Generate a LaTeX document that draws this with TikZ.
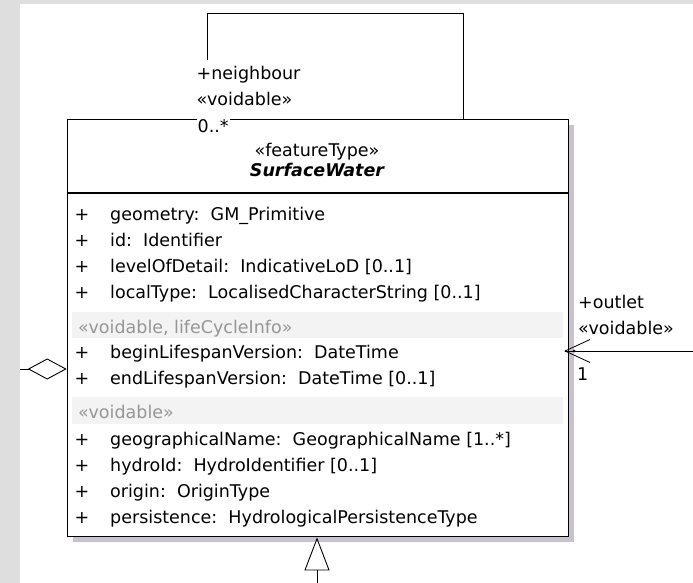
\documentclass[tikz,border=0pt]{standalone}
\usepackage{fontspec}
\setmainfont{DejaVu Sans}
\usepackage{tikz}
\usetikzlibrary{arrows.meta}

\definecolor{framegray}{RGB}{222,222,222}
\definecolor{shadowgray}{RGB}{200,194,206}
\definecolor{bandgray}{RGB}{243,243,243}
\definecolor{stereogray}{RGB}{150,150,150}

\begin{document}
\begin{tikzpicture}[x=1pt,y=-1pt,
	every node/.style={font=\fontsize{17.5}{21}\selectfont, inner sep=0pt},
	attr/.style={anchor=base west},
	vis/.style={anchor=base},
	band/.style={fill=bandgray, minimum width=491pt, anchor=north west},
	stereo/.style={anchor=base west, text=stereogray},
	role/.style={anchor=base west},
	link/.style={line width=0.9pt}]

	\useasboundingbox (0,0) rectangle (693,583);
	\fill[framegray] (0,0) rectangle (693,583);
	\fill[white] (20,4.5) rectangle (693,583);

	% class box with its shadow
	\fill[shadowgray] (72.7,125) rectangle (573.7,542);
	\node [draw, fill=white, line width=1.4pt, minimum width=501pt, minimum height=417pt, anchor=north west] (sw) at (66.7,119) {};
	\draw[line width=1.4pt] (sw.west |- 0,193) -- (sw.east |- 0,193);

	\node [vis] (swstereo) at (317,156) {«featureType»};
	\node [vis, font=\fontsize{17.5}{21}\selectfont\bfseries\itshape] (swname) at (317,176) {SurfaceWater};

	\node [band, minimum height=26pt] (lcband) at (72,312) {};
	\node [stereo] (lcstereo) at (78,333) {«voidable, lifeCycleInfo»};
	\node [band, minimum height=27pt] (vdband) at (72,397) {};
	\node [stereo] (vdstereo) at (78,418) {«voidable»};

	\foreach \yy/\txt in {220/{geometry:\ \ GM\_Primitive},
			246/{id:\ \ Identifier},
			272/{levelOfDetail:\ \ IndicativeLoD [0..1]},
			298/{localType:\ \ LocalisedCharacterString [0..1]},
			358/{beginLifespanVersion:\ \ DateTime},
			384/{endLifespanVersion:\ \ DateTime [0..1]},
			445/{geographicalName:\ \ GeographicalName [1..*]},
			471/{hydroId:\ \ HydroIdentifier [0..1]},
			497/{origin:\ \ OriginType},
			523/{persistence:\ \ HydrologicalPersistenceType}}
	{
		\node [vis] (plus\yy) at (82,\yy) {+};
		\node [attr] (attr\yy) at (110,\yy) {\txt};
	}

	% neighbour self association
	\coordinate (loopA) at (207.5,60);
	\coordinate (loopTop) at (463,13);
	\draw[link] (loopA) |- (loopTop) -- (loopTop |- sw.north);
	\node [role] (nbrole) at (196.5,80) {+neighbour};
	\node [role] (nbvoid) at (196.5,106) {«voidable»};
	\node [role, fill=white, inner xsep=1pt, inner ysep=2pt] (nbmult) at (196.5,132) {0..*};

	% outlet
	\coordinate (outletEnd) at (693,351);
	\draw[link, shorten >=-5pt, -{Straight Barb[length=25pt, width=23pt, line width=0.8pt]}] (outletEnd) -- (sw.east |- outletEnd);
	\fill ([xshift=5pt]sw.east |- outletEnd) circle (1.5);
	\node [role] (outrole) at (578,308) {+outlet};
	\node [role] (outvoid) at (578,334) {«voidable»};
	\node [role, fill=white, inner sep=1pt] (outmult) at (576,380) {1};

	% aggregation
	\coordinate (aggEnd) at (20,369);
	\draw[link, -{Diamond[open, length=39pt, width=21pt]}] (aggEnd) -- (sw.west |- aggEnd);

	% generalization
	\coordinate (genEnd) at (317,583);
	\draw[link, -{Triangle[open, length=33pt, width=25pt]}] (genEnd) -- (genEnd |- sw.south);
\end{tikzpicture}
\end{document}
